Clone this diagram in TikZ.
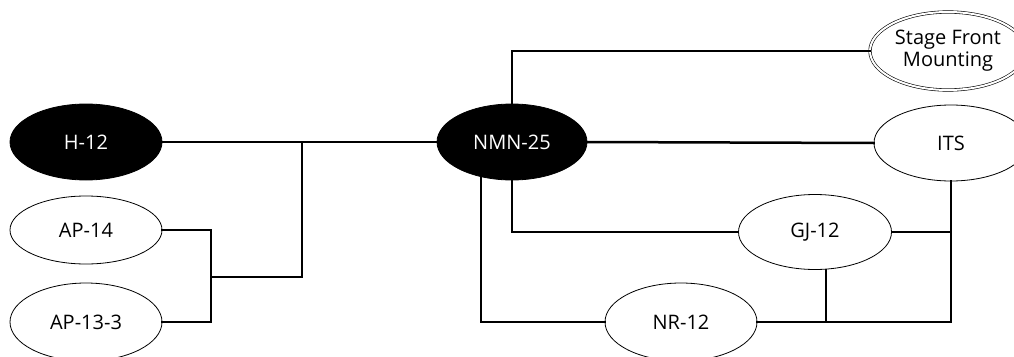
\documentclass[tikz,border=0pt]{standalone}
\usepackage{fontspec}
\setmainfont{Open Sans}
\usetikzlibrary{shapes.geometric}
\begin{document}
\begin{tikzpicture}[x=1pt,y=-1pt,
		unit/.style={ellipse, draw=custcol_0_0_0, line width=0.8pt, fill=custcol_ff_ff_ff, inner sep=0pt, minimum width=152pt, minimum height=76pt, font=\fontsize{20pt}{22pt}\selectfont},
		mainunit/.style={unit, fill=custcol_0_0_0, text=custcol_ff_ff_ff},
		stageunit/.style={unit, double=custcol_ff_ff_ff, double distance=2pt, line width=0.6pt, align=center},
		link/.style={line width=2.5pt, custcol_0_0_0, line cap=rect}]
				\definecolor{custcol_0_0_0}{RGB}{0, 0, 0}
				\definecolor{custcol_ff_ff_ff}{RGB}{255, 255, 255}
				\useasboundingbox (0,0) rectangle (1014,356);
				\clip (0,0) rectangle (1014,356);
				% units
				\node[mainunit] (h12) at (86,142) {H-12};
				\node[unit, minimum height=68pt] (ap14) at (86,230) {AP-14};
				\node[unit, minimum height=78pt] (ap133) at (86,322) {AP-13-3};
				\node[mainunit, minimum width=150pt] (nmn25) at (512,142) {NMN-25};
				\node[stageunit, minimum width=156pt, minimum height=78pt] (stage) at (948,51) {Stage Front\\Mounting};
				\node[unit, minimum width=154pt] (its) at (951,143) {ITS};
				\node[unit, minimum width=153pt, minimum height=75pt] (gj12) at (815,232) {GJ-12};
				\node[unit, minimum height=78pt] (nr12) at (681,322) {NR-12};
				% bus points
				\coordinate (apjoin) at (211,277);
				\coordinate (hjoin) at (302,142);
				\coordinate (rightjoin) at (951,322);
				% links
				\draw [link] (h12.east) -- (nmn25.west);
				\draw [link] (ap14.east) -| (apjoin) |- (ap133.east);
				\draw [link] (apjoin) -| (hjoin);
				\draw [link] ([yshift=25pt]nmn25.center) |- (stage.west);
				\draw [link] (nmn25.east) -- (its.west);
				\draw [link] ([yshift=-25pt]nmn25.center) |- (gj12.west);
				\draw [link] ([xshift=-31pt,yshift=-25pt]nmn25.center) |- (nr12.west);
				\draw [link] (its.south) -- (rightjoin);
				\draw [link] (gj12.east) -- (gj12.east -| rightjoin);
				\draw [link] (nr12.east) -- (rightjoin);
				\draw [link] ([xshift=11pt]gj12.south) -- ([xshift=11pt]gj12.south |- nr12.east);
			\end{tikzpicture}
\end{document}
